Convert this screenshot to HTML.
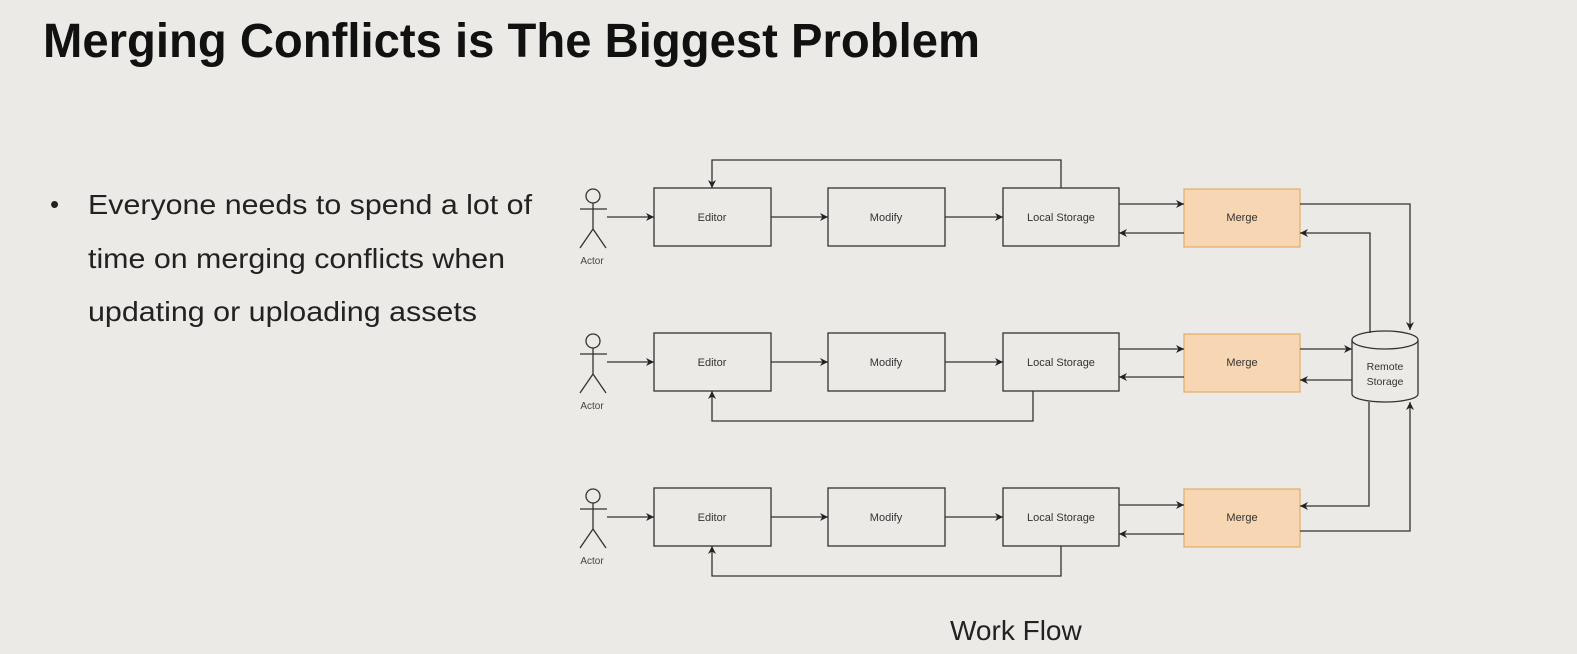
<!DOCTYPE html>
<html><head><style>
html,body{margin:0;padding:0;background:#ebeae6;}
svg{display:block;}
text{font-family:"Liberation Sans",Arial,sans-serif;}
</style></head><body>
<svg width="1577" height="654" viewBox="0 0 1577 654" xmlns="http://www.w3.org/2000/svg">
<defs>
<marker id="a" viewBox="0 0 10 10" refX="10" refY="5" markerWidth="8" markerHeight="8" orient="auto" markerUnits="userSpaceOnUse"><path d="M0,0 L10,5 L0,10 L3,5 Z" fill="#222"/></marker>
</defs>
<rect width="1577" height="654" fill="#ebeae6"/>
<text x="43" y="57" font-size="48" font-weight="bold" fill="#111" textLength="937" lengthAdjust="spacingAndGlyphs">Merging Conflicts is The Biggest Problem</text>
<text x="50" y="213" font-size="26" fill="#222">•</text>
<text x="88" y="214" font-size="28" fill="#222" textLength="444" lengthAdjust="spacingAndGlyphs">Everyone needs to spend a lot of</text>
<text x="88" y="268" font-size="28" fill="#222" textLength="417" lengthAdjust="spacingAndGlyphs">time on merging conflicts when</text>
<text x="88" y="321" font-size="28" fill="#222" textLength="389" lengthAdjust="spacingAndGlyphs">updating or uploading assets</text>
<text x="950" y="640" font-size="28" fill="#222">Work Flow</text>

<g stroke="#333" stroke-width="1.3" fill="none">
<g id="act">
<circle cx="593" cy="196" r="7"/>
<line x1="593" y1="203" x2="593" y2="229"/>
<line x1="580" y1="209" x2="607" y2="209"/>
<line x1="593" y1="229" x2="580" y2="248"/>
<line x1="593" y1="229" x2="606" y2="248"/>
</g>
<use href="#act" y="145"/>
<use href="#act" y="300"/>
</g>
<g font-size="10" fill="#444" text-anchor="middle">
<text x="592" y="264">Actor</text>
<text x="592" y="409">Actor</text>
<text x="592" y="564">Actor</text>
</g>

<g stroke="#333" stroke-width="1.3" fill="none">
<rect x="654" y="188" width="117" height="58"/>
<rect x="828" y="188" width="117" height="58"/>
<rect x="1003" y="188" width="116" height="58"/>
<rect x="654" y="333" width="117" height="58"/>
<rect x="828" y="333" width="117" height="58"/>
<rect x="1003" y="333" width="116" height="58"/>
<rect x="654" y="488" width="117" height="58"/>
<rect x="828" y="488" width="117" height="58"/>
<rect x="1003" y="488" width="116" height="58"/>
</g>
<g fill="#f6d6b3" stroke="#e6b070" stroke-width="1.3">
<rect x="1184" y="189" width="116" height="58"/>
<rect x="1184" y="334" width="116" height="58"/>
<rect x="1184" y="489" width="116" height="58"/>
</g>
<g stroke="#333" stroke-width="1.3" fill="#ebeae6">
<path d="M1352,340 L1352,394 A33,8 0 0 0 1418,394 L1418,340"/>
<ellipse cx="1385" cy="340" rx="33" ry="9"/>
</g>
<g font-size="10.5" fill="#333" text-anchor="middle">
<text x="1385" y="370">Remote</text>
<text x="1385" y="385">Storage</text>
</g>
<g font-size="11" fill="#333" text-anchor="middle">
<text x="712" y="221">Editor</text><text x="886" y="221">Modify</text><text x="1061" y="221">Local Storage</text><text x="1242" y="221">Merge</text>
<text x="712" y="366">Editor</text><text x="886" y="366">Modify</text><text x="1061" y="366">Local Storage</text><text x="1242" y="366">Merge</text>
<text x="712" y="521">Editor</text><text x="886" y="521">Modify</text><text x="1061" y="521">Local Storage</text><text x="1242" y="521">Merge</text>
</g>

<g stroke="#333" stroke-width="1.3" fill="none" marker-end="url(#a)">
<line x1="607" y1="217" x2="654" y2="217"/>
<line x1="771" y1="217" x2="828" y2="217"/>
<line x1="945" y1="217" x2="1003" y2="217"/>
<line x1="1119" y1="204" x2="1184" y2="204"/>
<line x1="1184" y1="233" x2="1119" y2="233"/>
<polyline points="1061,188 1061,160 712,160 712,188"/>
<line x1="607" y1="362" x2="654" y2="362"/>
<line x1="771" y1="362" x2="828" y2="362"/>
<line x1="945" y1="362" x2="1003" y2="362"/>
<line x1="1119" y1="349" x2="1184" y2="349"/>
<line x1="1184" y1="377" x2="1119" y2="377"/>
<polyline points="1033,391 1033,421 712,421 712,391"/>
<line x1="607" y1="517" x2="654" y2="517"/>
<line x1="771" y1="517" x2="828" y2="517"/>
<line x1="945" y1="517" x2="1003" y2="517"/>
<line x1="1119" y1="505" x2="1184" y2="505"/>
<line x1="1184" y1="534" x2="1119" y2="534"/>
<polyline points="1061,546 1061,576 712,576 712,546"/>
<polyline points="1300,204 1410,204 1410,330"/>
<polyline points="1370,333 1370,233 1300,233"/>
<line x1="1300" y1="349" x2="1352" y2="349"/>
<line x1="1352" y1="380" x2="1300" y2="380"/>
<polyline points="1369,402 1369,506 1300,506"/>
<polyline points="1300,531 1410,531 1410,402"/>
</g>
</svg>
</body></html>
